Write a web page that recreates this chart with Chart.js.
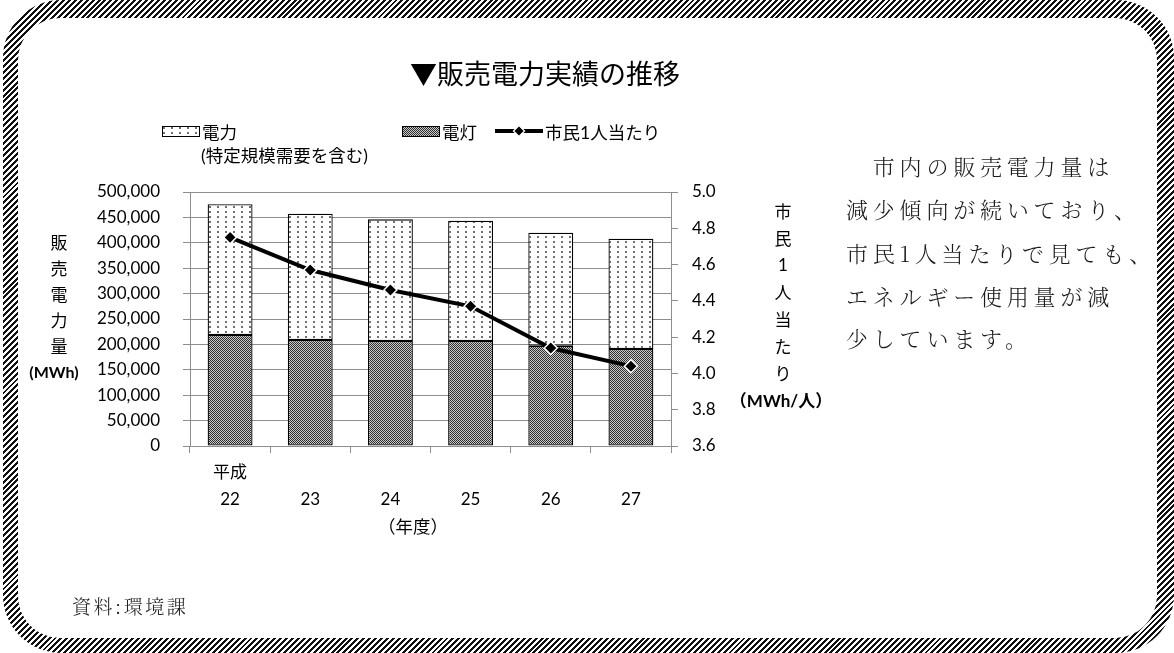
<!DOCTYPE html>
<html lang="ja">
<head>
<meta charset="utf-8">
<title>販売電力実績の推移</title>
<script src="https://cdn.jsdelivr.net/npm/chart.js@4.4.1/dist/chart.umd.min.js"></script>
<style>
  html, body { margin: 0; padding: 0; background: #fff; }
  #page { position: relative; width: 1174px; height: 653px; overflow: hidden; background: #fff; }
  #frame {
    position: absolute; left: 3px; top: 0; width: 1171px; height: 653px;
    border-radius: 58px;
    background: repeating-linear-gradient(135deg, #111 0px, #111 2.1px, #fff 2.1px, #fff 4.2px);
  }
  #inner {
    position: absolute; left: 18px; top: 18px; width: 1139px; height: 620px;
    border-radius: 42px; background: #fff;
  }
  #chart { position: absolute; left: 0; top: 0; }
  .t {
    position: absolute; white-space: nowrap; color: #000;
    font-family: "Lato", "Noto Sans CJK JP", sans-serif;
    transform: translate(-50%, -50%);
  }
  .l { transform: translate(0, -50%); }
  .para {
    font-family: "Noto Serif CJK JP", "Noto Sans CJK JP", serif;
    font-size: 22px; letter-spacing: 4.8px; color: #1a1a1a; font-weight: 300;
  }
  .sw { position: absolute; }
</style>
</head>
<body>
<div id="page">
  <div id="frame"></div>
  <div id="inner"></div>
  <canvas id="chart" width="1174" height="653"></canvas>
</div>
<script>
// Fiscal years (Heisei era) and the sales figures for each year
const eraLabel = '平成';
const fiscalYears = ['22', '23', '24', '25', '26', '27'];
const lightingMWh = [218500, 208700, 206700, 206700, 197500, 191000];   // 電灯
const powerMWh = [257500, 248500, 239500, 236800, 222500, 217000];      // 電力 (特定規模需要を含む)
const perCapitaMWh = [4.75, 4.57, 4.46, 4.37, 4.14, 4.04];              // 市民1人当たり

const seriesNames = { power: '電力', powerNote: '(特定規模需要を含む)', lighting: '電灯', perCapita: '市民1人当たり' };
const leftTicks = { min: 0, max: 500000, step: 50000 };
const rightTicks = { min: 3.6, max: 5.0, step: 0.2 };

const chartTitle = '▼販売電力実績の推移';
const leftAxisTitle = ['販', '売', '電', '力', '量'];
const leftAxisUnit = '(MWh)';
const rightAxisTitle = ['市', '民', '1', '人', '当', 'た', 'り'];
const rightAxisUnit = '（MWh/人）';
const xAxisTitle = '（年度）';
const paragraph = ['　市内の販売電力量は', '減少傾向が続いており、', '市民1人当たりで見ても、', 'エネルギー使用量が減', '少しています。'];
const sourceNote = '資料:環境課';

// Fill patterns for the two bar series
function dotPattern() {
  const c = document.createElement('canvas');
  c.width = 8; c.height = 5;
  const g = c.getContext('2d');
  g.fillStyle = '#fff'; g.fillRect(0, 0, 8, 5);
  g.fillStyle = '#333';
  g.beginPath(); g.arc(2, 2, 0.95, 0, Math.PI * 2); g.fill();
  return g.createPattern(c, 'repeat');
}
function densePattern() {
  const c = document.createElement('canvas');
  c.width = 2; c.height = 2;
  const g = c.getContext('2d');
  g.fillStyle = '#c8c8c8'; g.fillRect(0, 0, 2, 2);
  g.fillStyle = '#303030'; g.fillRect(0, 0, 1, 1); g.fillRect(1, 1, 1, 1);
  return g.createPattern(c, 'repeat');
}
const powerFill = dotPattern();
const lightingFill = densePattern();

const labels = fiscalYears.map((y, i) => i === 0 ? [eraLabel, y] : ['', y]);

const gridGrey = '#8e8e8e';
const tickFont = { family: 'Lato, "Noto Sans CJK JP", sans-serif', size: 17 };

new Chart(document.getElementById('chart'), {
  type: 'bar',
  data: {
    labels: labels,
    datasets: [
      {
        label: seriesNames.lighting, data: lightingMWh, yAxisID: 'y', order: 1,
        backgroundColor: lightingFill, borderColor: '#000', borderWidth: 1.3, borderSkipped: false,
        categoryPercentage: 1, barPercentage: 0.56
      },
      {
        label: seriesNames.power, data: powerMWh, yAxisID: 'y', order: 1,
        backgroundColor: powerFill, borderColor: '#000', borderWidth: 1.3, borderSkipped: false,
        categoryPercentage: 1, barPercentage: 0.56
      },
      {
        type: 'line', label: seriesNames.perCapita, data: perCapitaMWh, yAxisID: 'y1', order: 0,
        borderColor: '#000', borderWidth: 4, tension: 0,
        pointStyle: 'rectRot', pointRadius: 6.5, pointBackgroundColor: '#000',
        pointBorderColor: '#fff', pointBorderWidth: 1.5
      }
    ]
  },
  options: {
    responsive: false,
    animation: false,
    events: [],
    layout: { padding: { left: 0, right: 0, top: 192, bottom: 0 } },
    plugins: { legend: { display: false }, tooltip: { enabled: false }, title: { display: false } },
    scales: {
      x: {
        stacked: true,
        afterFit: s => { s.height = 207; },
        border: { color: gridGrey, width: 1 },
        grid: { drawOnChartArea: false, drawTicks: true, tickLength: 7, color: gridGrey, offset: true },
        ticks: { color: '#000', font: Object.assign({ lineHeight: '27px' }, tickFont), padding: 6, maxRotation: 0, autoSkip: false }
      },
      y: {
        stacked: true, position: 'left',
        min: leftTicks.min, max: leftTicks.max,
        afterFit: s => { s.width = 190; },
        border: { color: gridGrey, width: 1 },
        grid: { color: gridGrey, lineWidth: 1, tickLength: 7 },
        ticks: {
          stepSize: leftTicks.step, color: '#000', font: tickFont, padding: 23,
          callback: v => v.toLocaleString('en-US')
        }
      },
      y1: {
        position: 'right',
        min: rightTicks.min, max: rightTicks.max,
        afterFit: s => { s.width = 503; },
        border: { color: gridGrey, width: 1 },
        grid: { drawOnChartArea: false, color: gridGrey, tickLength: 7 },
        ticks: {
          stepSize: rightTicks.step, color: '#000', font: tickFont, padding: 14,
          callback: v => Number(v).toFixed(1)
        }
      }
    }
  }
});

// Text placed around the plot
const page = document.getElementById('page');
function addText(str, x, y, size, extra, cls) {
  const d = document.createElement('div');
  d.className = 't' + (cls ? ' ' + cls : '');
  d.textContent = str;
  d.style.left = x + 'px';
  d.style.top = y + 'px';
  d.style.fontSize = size + 'px';
  if (extra) Object.assign(d.style, extra);
  page.appendChild(d);
  return d;
}

addText(chartTitle, 410, 72, 27, { fontFamily: '"Noto Sans CJK JP", sans-serif' }, 'l');

leftAxisTitle.forEach((ch, i) => addText(ch, 59, 241 + i * 26, 17));
addText(leftAxisUnit, 54, 371, 16, { fontWeight: 'bold' });

rightAxisTitle.forEach((ch, i) => addText(ch, 783, 210 + i * 27, 17));
addText(rightAxisUnit, 781, 399, 17, { fontWeight: 'bold' });

addText(xAxisTitle, 413, 525, 17.5, { fontFamily: '"Noto Sans CJK JP", sans-serif' });

paragraph.forEach((line, i) => addText(line, 846, [165, 208, 252, 295, 337][i], 22, null, 'l para'));

addText(sourceNote, 72, 605, 19, { fontFamily: '"Noto Serif CJK JP", "Noto Sans CJK JP", serif', letterSpacing: '2.5px', color: '#222', fontWeight: '300' }, 'l');

// Legend
function swatch(x, y, w, h, fill) {
  const c = document.createElement('canvas');
  c.className = 'sw'; c.width = w; c.height = h;
  c.style.left = x + 'px'; c.style.top = y + 'px';
  const g = c.getContext('2d');
  g.fillStyle = fill; g.fillRect(0, 0, w, h);
  g.strokeStyle = '#000'; g.lineWidth = 1; g.strokeRect(0.5, 0.5, w - 1, h - 1);
  page.appendChild(c);
}
swatch(162, 126, 38, 11, powerFill);
addText(seriesNames.power, 202, 131, 17.5, null, 'l');
addText(seriesNames.powerNote, 201, 154, 17.5, null, 'l');
swatch(402, 126, 38, 11, lightingFill);
addText(seriesNames.lighting, 442, 131, 17.5, null, 'l');

(function lineSwatch() {
  const c = document.createElement('canvas');
  c.className = 'sw'; c.width = 48; c.height = 16;
  c.style.left = '495px'; c.style.top = '123px';
  const g = c.getContext('2d');
  g.fillStyle = '#000'; g.fillRect(0, 6, 48, 4);
  g.beginPath(); g.moveTo(24, 2.5); g.lineTo(29.5, 8); g.lineTo(24, 13.5); g.lineTo(18.5, 8); g.closePath();
  g.fillStyle = '#000'; g.fill();
  g.strokeStyle = '#fff'; g.lineWidth = 1.3; g.stroke();
  page.appendChild(c);
})();
addText(seriesNames.perCapita, 545, 131, 17.5, null, 'l');
</script>
</body>
</html>
